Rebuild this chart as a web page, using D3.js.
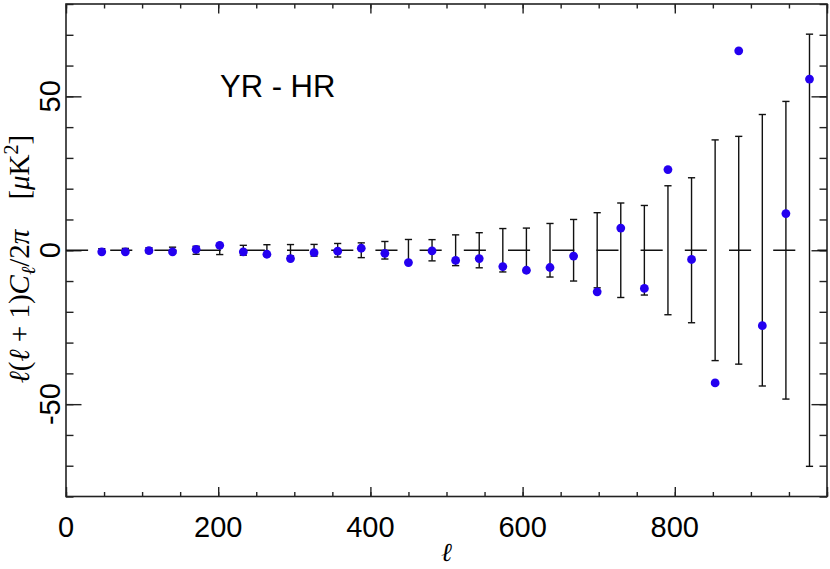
<!DOCTYPE html>
<html>
<head>
<meta charset="utf-8">
<script src="https://cdn.jsdelivr.net/npm/d3@7"></script>
<style>
  html, body { margin: 0; padding: 0; background: #fff; }
  svg { display: block; }
</style>
</head>
<body>
<svg id="chart" width="830" height="569"></svg>
<script>
// ---- data ----
const ell = [47, 78, 109, 140, 171, 202, 233, 264, 295, 326, 357, 388, 419, 450, 481, 512,
             543, 574, 605, 636, 667, 698, 729, 760, 791, 822, 853, 884, 915, 946, 977];
const values = [-0.5, -0.5, -0.1, -0.5, 0.3, 1.6, -0.5, -1.3, -2.7, -0.8, -0.3, 0.65, -1.0, -4.0, -0.2, -3.3,
                -2.7, -5.3, -6.5, -5.6, -1.9, -13.5, 7.2, -12.4, 26.2, -3.0, -43.1, 64.8, -24.5, 11.9, 55.6];
const sigmas = [0.5, 0.6, 0.8, 1.0, 1.3, 1.4, 1.6, 1.8, 1.85, 1.9, 2.2, 2.4, 2.85, 3.5, 3.45, 5.0,
                5.7, 7.05, 7.2, 8.7, 10.0, 12.2, 15.35, 14.55, 20.95, 23.55, 35.85, 37.0, 44.1, 48.35, 70.2];
const xTickLabels = ["0", "200", "400", "600", "800"];
const yTickLabels = ["-50", "0", "50"];
const titleText = "YR - HR";

// ---- scales ----
const svg = d3.select("#chart");
const x = d3.scaleLinear().domain([0, 1000]).range([66, 827]);
const y = d3.scaleLinear().domain([-80, 80]).range([496.5, 4]);
const axisColor = "#222";

// ---- ticks via d3 axes ----
function styleAxis(g) {
  g.select(".domain").remove();
  g.selectAll(".tick line").attr("stroke", axisColor).attr("stroke-width", 1.4);
  g.selectAll(".tick text").remove();
}
const xMinor = d3.range(0, 1001, 50);
const xMajor = d3.range(0, 1001, 200);
const yMinor = d3.range(-80, 81, 10);
const yMajor = [-50, 0, 50];

svg.append("g").attr("transform", `translate(0,${y(-80)})`)
  .call(d3.axisBottom(x).tickValues(xMinor).tickSize(-4.5).tickSizeOuter(0)).call(styleAxis);
svg.append("g").attr("transform", `translate(0,${y(-80)})`)
  .call(d3.axisBottom(x).tickValues(xMajor).tickSize(-9.5).tickSizeOuter(0)).call(styleAxis);
svg.append("g").attr("transform", `translate(0,${y(80)})`)
  .call(d3.axisTop(x).tickValues(xMinor).tickSize(-4.5).tickSizeOuter(0)).call(styleAxis);
svg.append("g").attr("transform", `translate(0,${y(80)})`)
  .call(d3.axisTop(x).tickValues(xMajor).tickSize(-9.5).tickSizeOuter(0)).call(styleAxis);
svg.append("g").attr("transform", `translate(${x(0)},0)`)
  .call(d3.axisLeft(y).tickValues(yMinor).tickSize(-7.5).tickSizeOuter(0)).call(styleAxis);
svg.append("g").attr("transform", `translate(${x(0)},0)`)
  .call(d3.axisLeft(y).tickValues(yMajor).tickSize(-15.5).tickSizeOuter(0)).call(styleAxis);
svg.append("g").attr("transform", `translate(${x(1000)},0)`)
  .call(d3.axisRight(y).tickValues(yMinor).tickSize(-7.5).tickSizeOuter(0)).call(styleAxis);
svg.append("g").attr("transform", `translate(${x(1000)},0)`)
  .call(d3.axisRight(y).tickValues(yMajor).tickSize(-15.5).tickSizeOuter(0)).call(styleAxis);

// frame
svg.append("rect")
  .attr("x", x(0)).attr("y", y(80))
  .attr("width", x(1000) - x(0)).attr("height", y(-80) - y(80))
  .attr("fill", "none").attr("stroke", axisColor).attr("stroke-width", 1.6);

// tick labels
svg.append("g").selectAll("text").data(xTickLabels).join("text")
  .attr("x", d => x(+d)).attr("y", 536.5)
  .attr("text-anchor", "middle")
  .attr("font-family", "Liberation Sans, Arial, Helvetica, sans-serif")
  .attr("font-size", 29).attr("fill", "#000")
  .text(d => d);

svg.append("g").selectAll("text").data(yTickLabels).join("text")
  .attr("transform", d => `translate(60,${y(+d)}) rotate(-90)`)
  .attr("text-anchor", "middle")
  .attr("font-family", "Liberation Sans, Arial, Helvetica, sans-serif")
  .attr("font-size", 29).attr("fill", "#000")
  .text(d => d);

// dashed zero line
svg.append("line")
  .attr("x1", x(0)).attr("x2", x(1000))
  .attr("y1", y(0)).attr("y2", y(0))
  .attr("stroke", "#111").attr("stroke-width", 1.3)
  .attr("stroke-dasharray", "22.1,22.1");

// error bars (centred on zero)
const bars = svg.append("g").attr("stroke", "#111").attr("stroke-width", 1.4);
ell.forEach((l, i) => {
  const cx = x(l), s = sigmas[i];
  bars.append("line").attr("x1", cx).attr("x2", cx).attr("y1", y(s)).attr("y2", y(-s));
  bars.append("line").attr("x1", cx - 3.6).attr("x2", cx + 3.6).attr("y1", y(s)).attr("y2", y(s));
  bars.append("line").attr("x1", cx - 3.6).attr("x2", cx + 3.6).attr("y1", y(-s)).attr("y2", y(-s));
});

// points
svg.append("g").selectAll("circle").data(ell).join("circle")
  .attr("cx", d => x(d)).attr("cy", (d, i) => y(values[i]))
  .attr("r", 4.4).attr("fill", "#2400f0");

// title
svg.append("text").attr("x", 220).attr("y", 96.5)
  .attr("font-family", "Liberation Sans, Arial, Helvetica, sans-serif")
  .attr("font-size", 31).attr("fill", "#000")
  .text(titleText);

// x-axis label
svg.append("text").attr("x", 446.5).attr("y", 561)
  .attr("text-anchor", "middle")
  .attr("font-family", "Liberation Serif, DejaVu Serif, serif")
  .attr("font-style", "italic")
  .attr("font-size", 26).attr("fill", "#000")
  .text("ℓ");

// y-axis label
const yl = svg.append("text")
  .attr("transform", "translate(29,259) rotate(-90)")
  .attr("text-anchor", "middle")
  .attr("font-family", "Liberation Serif, DejaVu Serif, serif")
  .attr("font-size", 29).attr("fill", "#000");
yl.append("tspan").attr("font-style", "italic").text("ℓ");
yl.append("tspan").text("(");
yl.append("tspan").attr("font-style", "italic").text("ℓ");
yl.append("tspan").text(" + 1)");
yl.append("tspan").attr("font-style", "italic").text("C");
yl.append("tspan").attr("font-size", 20).attr("font-style", "italic").attr("dy", 6).text("ℓ");
yl.append("tspan").attr("dy", -6).text("/2");
yl.append("tspan").attr("font-style", "italic").text("π");
yl.append("tspan").attr("dx", 30).text("[");
yl.append("tspan").attr("font-style", "italic").text("μ");
yl.append("tspan").text("K");
yl.append("tspan").attr("font-size", 20).attr("dy", -11).text("2");
yl.append("tspan").attr("dy", 11).text("]");
</script>
</body>
</html>
